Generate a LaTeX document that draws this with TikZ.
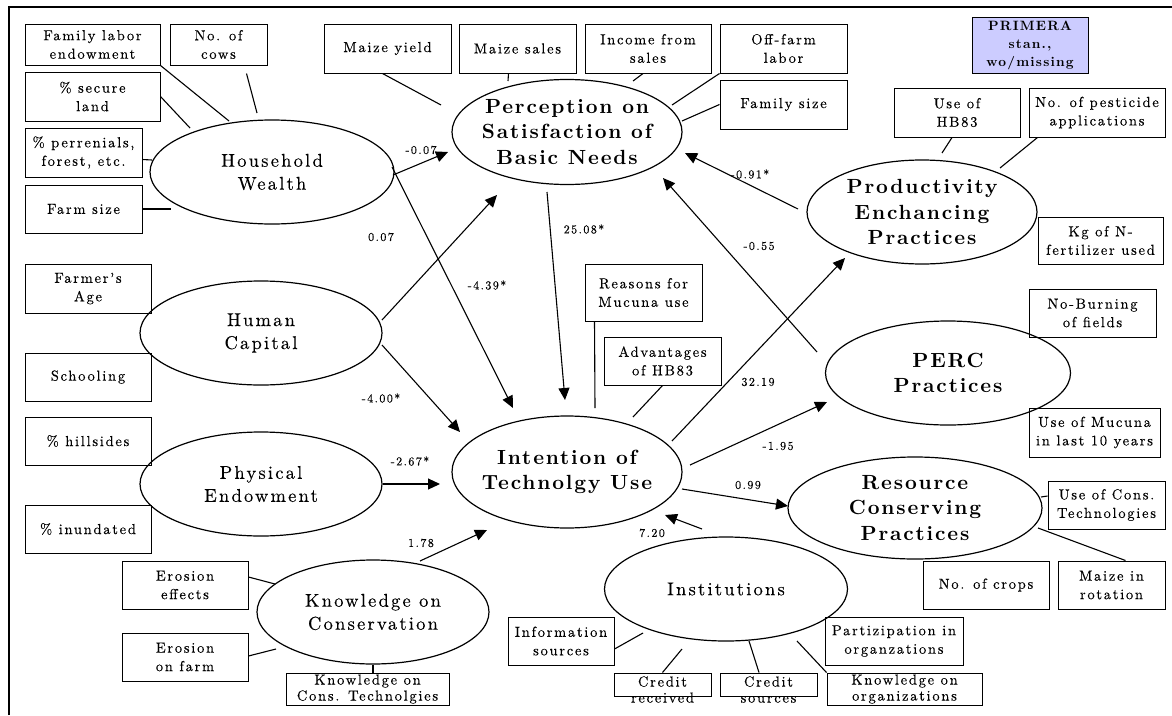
\documentclass[tikz,border=0pt]{standalone}
\usepackage{fontspec}
\newfontfamily\lmr{lmroman10-regular.otf}[LetterSpace=12,FakeBold=0.2]
\newfontfamily\lmb{lmroman10-bold.otf}[LetterSpace=9]
\usetikzlibrary{shapes.geometric,arrows.meta,calc}
\definecolor{primfill}{HTML}{CCCCFF}
\tikzset{
  bx/.style={draw, line width=1pt, inner sep=0pt, align=center, font=\lmr\fontsize{14.5}{18.5}\selectfont},
  bxt/.style={inner sep=0pt, align=center, font=\lmr\fontsize{14.5}{16}\selectfont},
  ell/.style={draw, ellipse, line width=1.2pt, inner sep=0pt},
  elt/.style={inner sep=0pt, align=center, font=\lmr\fontsize{18.5}{23}\selectfont},
  elb/.style={inner sep=0pt, align=center, font=\lmb\fontsize{20.5}{25.5}\selectfont},
  lbl/.style={inner sep=0pt, font=\lmr\fontsize{12}{14}\selectfont},
  ind/.style={line width=1.1pt},
  arr/.style={line width=1.1pt, -{Triangle[length=12pt,width=11pt]}}
}
\begin{document}
\begin{tikzpicture}[x=1pt,y=-1pt]
\useasboundingbox (0,0) rectangle (1172,715);
\draw[line width=1.6pt] (9,715) -- (9,7) -- (1172,7);

% indicator boxes
\node[bx, minimum width=135pt, minimum height=41pt] (fle) at (92.5,44.5) {Family labor\\endowment};
\node[bx, minimum width=97pt, minimum height=41pt] (noc) at (218.5,44.5) {No. of\\cows};
\node[bx, minimum width=135pt, minimum height=49pt] (sl) at (92.5,96.5) {\% secure\\land};
\node[bx, minimum width=117pt, minimum height=49pt] (pf) at (83.5,152.5) {\% perrenials,\\forest, etc.};
\node[bx, minimum width=117pt, minimum height=48pt] (fs) at (83.5,209) {Farm size};
\node[bx, minimum width=127pt, minimum height=49pt] (my) at (387.5,48.5) {Maize yield};
\node[bx, minimum width=117pt, minimum height=49pt] (ms) at (517.5,48.5) {Maize sales};
\node[bx, minimum width=126pt, minimum height=49pt] (ifs) at (648,48.5) {Income from\\sales};
\node[bx, minimum width=127pt, minimum height=49pt] (ofl) at (783.5,48.5) {Off-farm\\labor};
\node[bx, minimum width=127pt, minimum height=49pt] (fsz) at (783.5,104.5) {Family size};
\node[bx, fill=primfill, minimum width=116pt, minimum height=56pt, font=\lmb\fontsize{13.5}{18}\selectfont] (prim) at (1030,45) {PRIMERA\\stan.,\\wo/missing};
\node[bx, minimum width=126pt, minimum height=49pt] (hb) at (957,112.5) {Use of\\HB83};
\node[bx, minimum width=136pt, minimum height=49pt] (pest) at (1097,112.5) {No. of pesticide\\applications};
\node[bx, minimum width=125pt, minimum height=47pt] (kg) at (1100.5,240.5) {Kg of N-\\fertilizer used};
\node[bx, minimum width=126pt, minimum height=49pt] (fa) at (88,288.5) {Farmer’s\\Age};
\node[bx, minimum width=126pt, minimum height=48pt] (sch) at (88,377) {Schooling};
\node[bx, minimum width=126pt, minimum height=48pt] (hil) at (88,441) {\% hillsides};
\node[bx, minimum width=126pt, minimum height=48pt] (inu) at (88,529) {\% inundated};
\node[bx, minimum width=126pt, minimum height=48pt] (ee) at (185,585) {Erosion\\effects};
\node[bx, minimum width=126pt, minimum height=48pt] (ef) at (185,657) {Erosion\\on farm};
\node[bx, minimum width=163pt, minimum height=32pt, label={[bxt]center:Knowledge on\\Cons. Technolgies}] (kct) at (367.5,689) {};
\node[bx, minimum width=117pt, minimum height=57pt] (rm) at (643.5,292.5) {Reasons for\\Mucuna use};
\node[bx, minimum width=117pt, minimum height=48pt] (adv) at (662.5,361) {Advantages\\of HB83};
\node[bx, minimum width=127pt, minimum height=48pt] (nb) at (1092.5,313) {No-Burning\\of fields};
\node[bx, minimum width=131pt, minimum height=49pt] (um) at (1094.5,432.5) {Use of Mucuna\\in last 10 years};
\node[bx, minimum width=117pt, minimum height=48pt] (uct) at (1106.5,505) {Use of Cons.\\Technologies};
\node[bx, minimum width=126pt, minimum height=48pt] (ncr) at (986,585) {No. of crops};
\node[bx, minimum width=107pt, minimum height=48pt] (mr) at (1111.5,585) {Maize in\\rotation};
\node[bx, minimum width=106pt, minimum height=48pt] (is) at (561,641) {Information\\sources};
\node[bx, minimum width=97pt, minimum height=23pt, label={[bxt, yshift=-5pt]center:Credit\\received}] (cr) at (662.5,684.5) {};
\node[bx, minimum width=97pt, minimum height=23pt, label={[bxt, yshift=-5pt]center:Credit\\sources}] (cs) at (768.5,684.5) {};
\node[bx, minimum width=155pt, minimum height=32pt, label={[bxt]center:Knowledge on\\organizations}] (ko) at (904.5,689) {};
\node[bx, minimum width=138pt, minimum height=48pt] (po) at (894,641) {Partizipation in\\organzations};

% latent variables
\node[ell, minimum width=244pt, minimum height=104pt, label={[elt]center:Household\\Wealth}] (hw) at (272,172) {};
\node[ell, minimum width=230pt, minimum height=105pt, label={[elb]center:Perception on\\Satisfaction of\\Basic Needs}] (per) at (567,132) {};
\node[ell, minimum width=242pt, minimum height=104pt, label={[elt]center:Human\\Capital}] (hc) at (261,333) {};
\node[ell, minimum width=242pt, minimum height=104pt, label={[elt]center:Physical\\Endowment}] (pe) at (261,484) {};
\node[ell, minimum width=232pt, minimum height=104pt, label={[elt]center:Knowledge on\\Conservation}] (kc) at (373,612) {};
\node[ell, minimum width=230pt, minimum height=112pt, label={[elb]center:Intention of\\Technolgy Use}] (it) at (567,472) {};
\node[ell, minimum width=230pt, minimum height=104pt, label={[elb]center:Productivity\\Enchancing\\Practices}] (pr) at (922,212) {};
\node[ell, minimum width=245pt, minimum height=104pt, label={[elb]center:PERC\\Practices}] (perc) at (948,373) {};
\node[ell, minimum width=254pt, minimum height=102pt, label={[elb]center:Resource\\Conserving\\Practices}] (rc) at (915,508) {};
\node[ell, minimum width=243pt, minimum height=104pt, label={[elt]center:Institutions}] (ins) at (726,589) {};

% measurement lines
\draw[ind] (fle.south east) -- ($(hw)+(-43,-51)$);
\draw[ind] ($(noc.south)+(28,8)$) -- ($(hw)+(-15,-59)$);
\draw[ind] (sl.east) -- ($(hw)+(-82,-44)$);
\draw[ind] ($(pf.east)+(0,7)$) -- ($(hw)+(-120,-12)$);
\draw[ind] (fs.east) -- ($(hw)+(-101,37)$);
\draw[ind] ($(my.south)+(-5,0)$) -- ($(per)+(-126,-27)$);
\draw[ind] ($(ms.south)+(-9,0)$) -- ($(per)+(-59,-51)$);
\draw[ind] ($(ifs.south)+(-5,0)$) -- ($(per)+(66,-51)$);
\draw[ind] (ofl.south west) -- ($(per)+(105,-27)$);
\draw[ind] (fsz.west) -- ($(per)+(115,-11)$);
\draw[ind] ($(hb.south)+(-5,0)$) -- ($(pr)+(20,-59)$);
\draw[ind] ($(pest.south west)+(9,0)$) -- ($(pr)+(78,-44)$);
\draw[ind] ($(rm.south west)+(10,0)$) -- ($(it)+(28,-64)$);
\draw[ind] (adv.south) -- ($(it)+(66,-55)$);
\draw[ind] ($(rc)+(126,-11)$) -- ($(uct.west)+(0,-9)$);
\draw[ind] ($(rc)+(123,20)$) -- ($(mr.north)+(14,0)$);
\draw[ind] ($(ee.east)+(0,-8)$) -- ($(kc)+(-98,-28)$);
\draw[ind] ($(ef.east)+(0,-1)$) -- ($(kc)+(-97,37)$);
\draw[ind] (kc.south) -- ($(kct.north)+(5.5,0)$);
\draw[ind] ($(is.east)+(0,8)$) -- ($(ins)+(-83,44)$);
\draw[ind] (cr.north) -- ($(ins)+(-44,60)$);
\draw[ind] ($(cs.north)+(-9.5,0)$) -- ($(ins)+(23,52)$);
\draw[ind] (ko.north west) -- ($(ins)+(71,52)$);

% structural paths
\draw[arr] ($(hw)+(121,3)$) -- ($(per)+(-119,20)$);
\draw[arr] ($(hw)+(120,-5)$) -- ($(it)+(-54,-64)$);
\draw[arr] ($(hc)+(121,-13)$) -- ($(per)+(-70,63)$);
\draw[arr] ($(hc)+(121,12)$) -- ($(it)+(-107,-40)$);
\draw[arr] (pe.east) -- ($(it)+(-127,12)$);
\draw[arr] ($(kc)+(47,-51)$) -- ($(it)+(-80,58)$);
\draw[arr] ($(per)+(-20,60)$) -- ($(it)+(-2,-72)$);
\draw[arr] ($(it)+(105,-31)$) -- ($(pr)+(-77,46)$);
\draw[arr] ($(it)+(123,-7)$) -- ($(perc)+(-121,29)$);
\draw[arr] ($(it)+(115,17)$) -- ($(rc)+(-127,-2)$);
\draw[arr] ($(ins)+(-24,-60)$) -- ($(it)+(98,43)$);
\draw[arr] ($(pr)+(-124,-3)$) -- ($(per)+(118,21)$);
\draw[arr] ($(perc)+(-131,-21)$) -- ($(per)+(96,46)$);

% coefficients
\node[lbl] (l1) at (421,150) {-0.07};
\node[lbl] (l2) at (381,237) {0.07};
\node[lbl] (l3) at (487,285) {-4.39*};
\node[lbl] (l4) at (584,229) {25.08*};
\node[lbl] (l5) at (759,246) {-0.55};
\node[lbl] (l6) at (758,382) {32.19};
\node[lbl] (l7) at (778,446) {-1.95};
\node[lbl] (l8) at (750,174) {-0.91*};
\node[lbl] (l9) at (381,398) {-4.00*};
\node[lbl] (l10) at (410,461) {-2.67*};
\node[lbl] (l11) at (421,543) {1.78};
\node[lbl] (l12) at (748,485) {0.99};
\node[lbl] (l13) at (652,533) {7.20};
\end{tikzpicture}
\end{document}
